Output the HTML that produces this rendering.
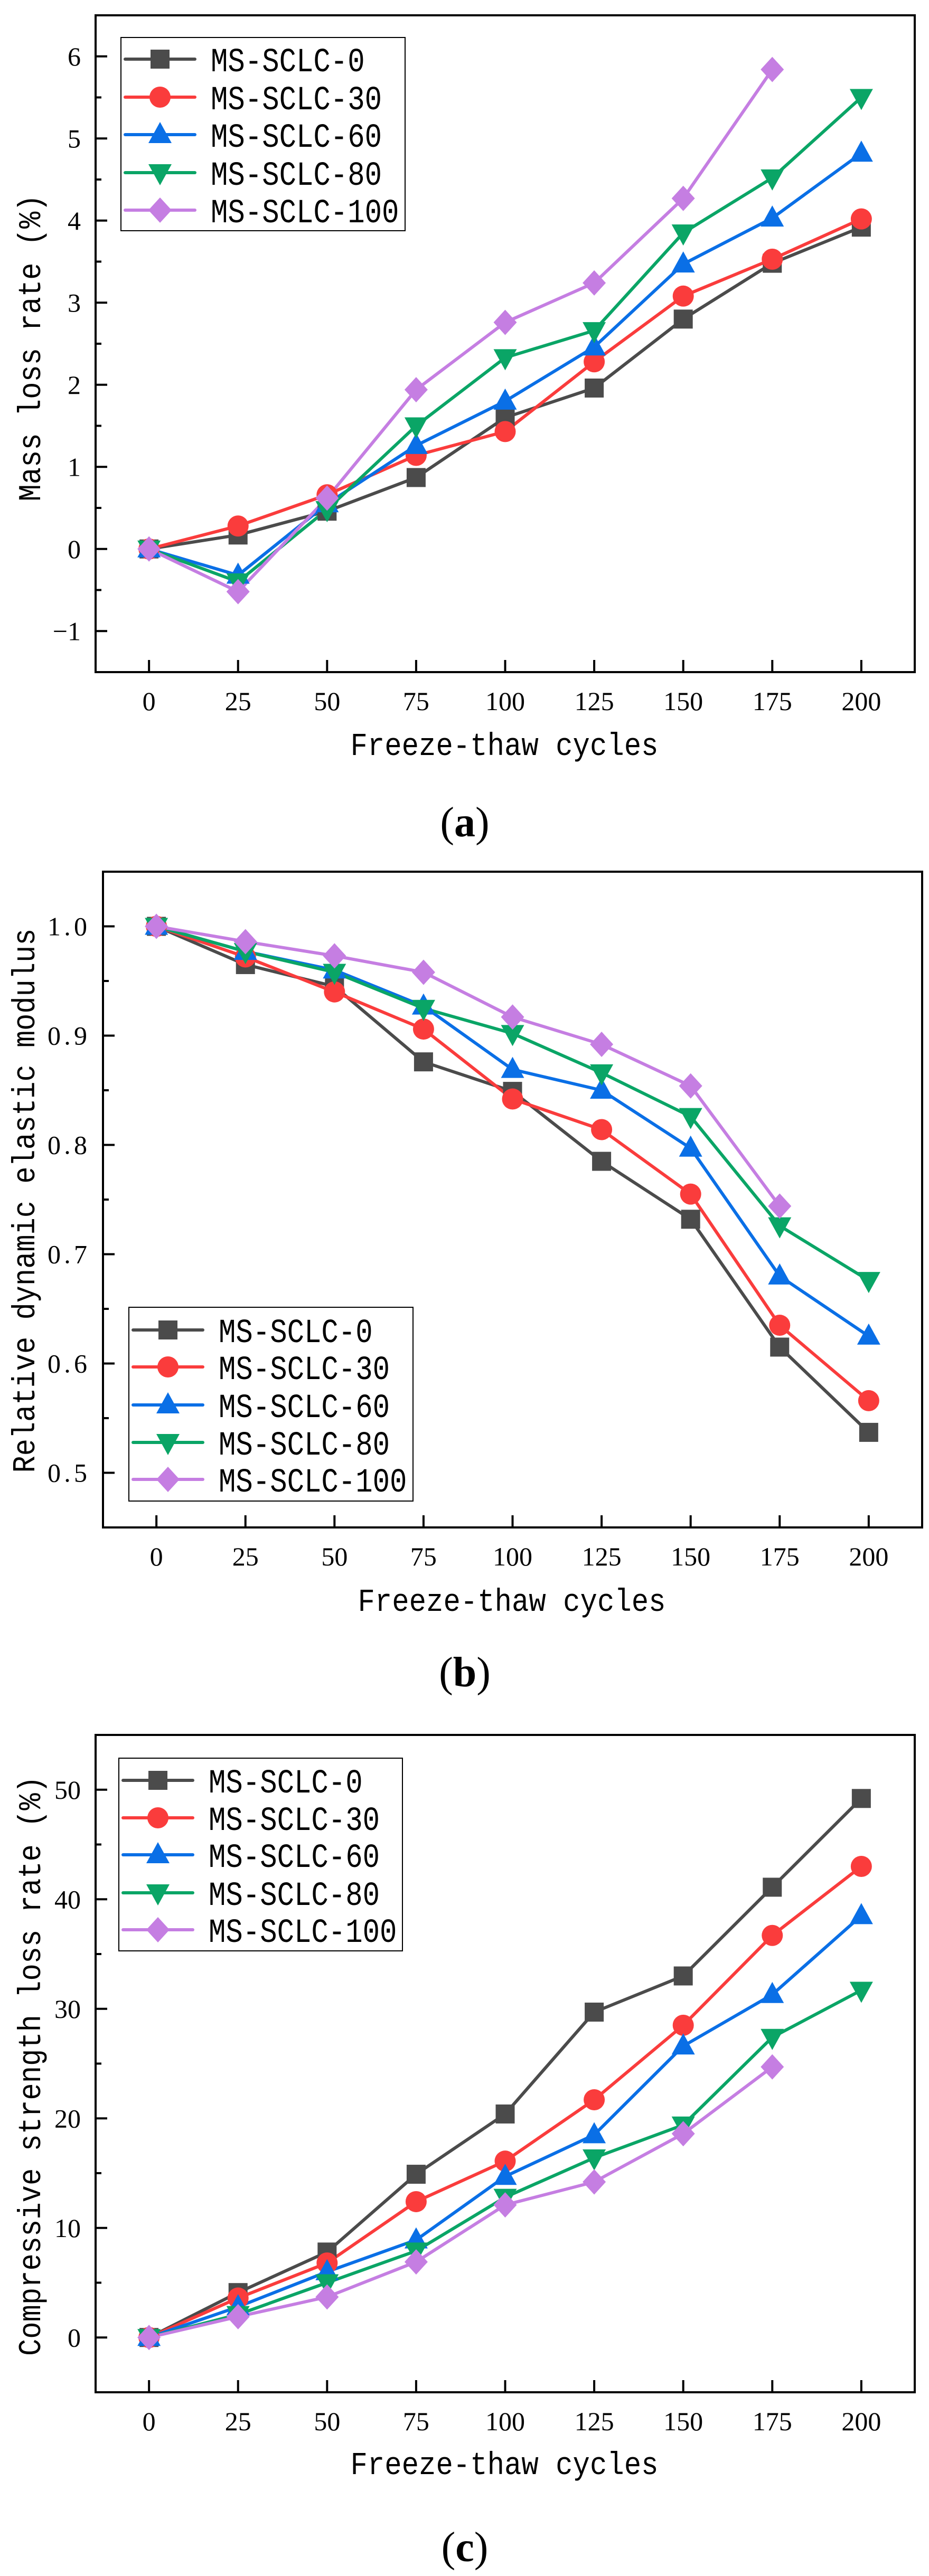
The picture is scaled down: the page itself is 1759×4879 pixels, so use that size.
<!DOCTYPE html>
<html><head><meta charset="utf-8">
<style>
html,body{margin:0;padding:0;background:#fff;}
svg{display:block;}
.tick{font-family:"Liberation Serif",serif;font-size:50px;fill:#000;}
.mono{font-family:"Liberation Mono",monospace;fill:#000;}
.cap{font-family:"Liberation Serif",serif;font-size:80px;fill:#000;}
</style></head>
<body>
<svg id="fig" width="1759" height="4879" viewBox="0 0 1759 4879" xmlns="http://www.w3.org/2000/svg"></svg>
<script>
const cycles = [0,25,50,75,100,125,150,175,200];
const seriesNames = ["MS-SCLC-0","MS-SCLC-30","MS-SCLC-60","MS-SCLC-80","MS-SCLC-100"];
// Panel (a) mass loss rate (%)
const massS0   = [0,0.17,0.46,0.87,1.6,1.96,2.8,3.48,3.92];
const massS30  = [0,0.28,0.66,1.14,1.43,2.28,3.08,3.53,4.02];
const massS60  = [0,-0.32,0.55,1.26,1.8,2.46,3.47,4.03,4.82];
const massS80  = [0,-0.4,0.48,1.5,2.33,2.66,3.85,4.52,5.5];
const massS100 = [0,-0.52,0.62,1.94,2.76,3.24,4.27,5.84,null];
const massTicks = [-1,0,1,2,3,4,5,6];
const massTickLabels = ["\u22121","0","1","2","3","4","5","6"];
// Panel (b) relative dynamic elastic modulus
const modS0   = [1,0.965,0.945,0.876,0.849,0.785,0.732,0.615,0.537];
const modS30  = [1,0.972,0.94,0.906,0.842,0.814,0.755,0.635,0.566];
const modS60  = [1,0.977,0.96,0.927,0.869,0.85,0.797,0.68,0.625];
const modS80  = [1,0.977,0.958,0.925,0.902,0.866,0.826,0.726,0.676];
const modS100 = [1,0.986,0.973,0.958,0.917,0.892,0.854,0.744,null];
const modTicks = [0.5,0.6,0.7,0.8,0.9,1.0];
const modTickLabels = ["0.5","0.6","0.7","0.8","0.9","1.0"];
// Panel (c) compressive strength loss rate (%)
const compS0   = [0,4.1,7.8,14.9,20.4,29.7,33.0,41.1,49.2];
const compS30  = [0,3.6,6.8,12.4,16.1,21.7,28.5,36.7,43.0];
const compS60  = [0,2.8,6.0,8.9,14.7,18.5,26.6,31.3,38.5];
const compS80  = [0,2.1,5.0,7.9,12.8,16.4,19.4,27.4,31.7];
const compS100 = [0,1.9,3.7,6.9,12.1,14.2,18.6,24.7,null];
const compTicks = [0,10,20,30,40,50];
const compTickLabels = ["0","10","20","30","40","50"];
const xTickLabels = ["0","25","50","75","100","125","150","175","200"];

const NS="http://www.w3.org/2000/svg";
const svg=document.getElementById('fig');
const colors=["#4b4b4b","#fa3c3c","#0a6fe6","#0aa566","#c57ee2"];
const shapes=["square","circle","up","down","diamond"];
function mk(tag,attrs,parent){const e=document.createElementNS(NS,tag);for(const k in attrs)e.setAttribute(k,attrs[k]);(parent||svg).appendChild(e);return e;}
function marker(g,shape,x,y,c){
  let e;
  if(shape==="square") e=mk('rect',{x:x-18,y:y-18,width:36,height:36,fill:c},g);
  else if(shape==="circle") e=mk('circle',{cx:x,cy:y,r:20,fill:c},g);
  else if(shape==="up") e=mk('polygon',{points:`${x},${y-24} ${x+22},${y+16} ${x-22},${y+16}`,fill:c},g);
  else if(shape==="down") e=mk('polygon',{points:`${x},${y+24} ${x+22},${y-16} ${x-22},${y-16}`,fill:c},g);
  else e=mk('polygon',{points:`${x},${y-24} ${x+22},${y} ${x},${y+24} ${x-22},${y}`,fill:c},g);
  return e;
}
function panel(p){
  const g=mk('g',{});
  
  
  const X=v=>p.L+(v-(-15))/(230)*(p.R-p.L);
  const Y=v=>p.B-(v-p.ymin)/(p.ymax-p.ymin)*(p.B-p.T);
  p.series.forEach((s,i)=>{
    let pts=[];cycles.forEach((c,j)=>{if(s[j]!==null)pts.push(X(c)+','+Y(s[j]));});
    const l=mk('polyline',{points:pts.join(' '),fill:'none',stroke:colors[i],'stroke-width':6,'stroke-linejoin':'round'},g);
    
    
  });
  p.series.forEach((s,i)=>{
    cycles.forEach((c,j)=>{if(s[j]===null)return;
      const m=marker(g,shapes[i],X(c),Y(s[j]),colors[i]);
      
      
    });
  });
  const f=mk('rect',{x:p.L,y:p.T,width:p.R-p.L,height:p.B-p.T,fill:'none',stroke:'#000','stroke-width':4},g);
  
  
  cycles.forEach((c,j)=>{
    mk('line',{x1:X(c),x2:X(c),y1:p.B,y2:p.B-23,stroke:'#000','stroke-width':4},g);
    const t=mk('text',{x:X(c),y:p.B+72,'text-anchor':'middle',class:'tick'},g);
    t.textContent=xTickLabels[j];
    
    
  });
  p.ticks.forEach((v,j)=>{
    mk('line',{x1:p.L,x2:p.L+22,y1:Y(v),y2:Y(v),stroke:'#000','stroke-width':4},g);
    const a={x:p.L-28,y:Y(v)+17,'text-anchor':'end',class:'tick'};
    if(p.tickLen) {a.textLength=p.tickLen;a.lengthAdjust='spacing';a.x=p.L-30;}
    const t=mk('text',a,g);
    t.textContent=p.tickLabels[j];
    
    
  });
  p.minor.forEach(v=>{mk('line',{x1:p.L,x2:p.L+11,y1:Y(v),y2:Y(v),stroke:'#000','stroke-width':4},g);});
  const xt=mk('text',{x:p.xtX,y:p.xtY+20,'text-anchor':'middle',class:'mono','font-size':60,textLength:583,lengthAdjust:'spacingAndGlyphs'},g);
  xt.textContent="Freeze-thaw cycles";
  
  
  const yt=mk('text',{x:0,y:0,'text-anchor':'middle',class:'mono','font-size':60,textLength:p.ytLen,lengthAdjust:'spacingAndGlyphs',transform:`translate(${p.ytX+20},${p.ytY}) rotate(-90)`},g);
  yt.textContent=p.ytitle;
  
  
  const lg=mk('g',{},g);
  
  
  mk('rect',{x:p.lg.x,y:p.lg.y,width:p.lg.w,height:p.lg.h,fill:'#fff',stroke:'#000','stroke-width':2},lg);
  seriesNames.forEach((n,i)=>{
    const ry=p.lg.rows[i];
    const e=mk('g',{},lg);
    
    
    mk('line',{x1:p.lg.x+8,x2:p.lg.x+140,y1:ry,y2:ry,stroke:colors[i],'stroke-width':6,'stroke-linecap':'round'},e);
    marker(e,shapes[i],p.lg.x+74,ry,colors[i]);
    const t=mk('text',{x:p.lg.x+170,y:ry+23,class:'mono','font-size':64,textLength:n.length*32.4,lengthAdjust:'spacingAndGlyphs'},e);
    t.textContent=n;
  });
  const cp=mk('text',{x:880,y:p.capY+26,'text-anchor':'middle',class:'cap'},g);
  cp.innerHTML='(<tspan font-weight="bold">'+p.cap+'</tspan>)';
  
  
}
const halfs=(a,b,s)=>{const r=[];for(let v=a;v<=b+1e-9;v+=s)r.push(+v.toFixed(3));return r;};
panel({name:'panel-a-mass-loss',L:181,R:1732,T:29,B:1273,ymin:-1.5,ymax:6.5,
  series:[massS0,massS30,massS60,massS80,massS100],ticks:massTicks,tickLabels:massTickLabels,
  minor:halfs(-1.5,6.5,1).filter(v=>v>-1.5&&v<6.5),
  xtX:955,xtY:1410,ytX:56,ytY:659,ytLen:581,ytitle:"Mass loss rate (%)",
  lg:{x:229,y:71,w:538,h:366,rows:[112,184,255,327,398]},cap:'a',capY:1558});
panel({name:'panel-b-elastic-modulus',L:195,R:1746,T:1651,B:2893,ymin:0.45,ymax:1.05,
  series:[modS0,modS30,modS60,modS80,modS100],ticks:modTicks,tickLabels:modTickLabels,tickLen:75,
  minor:[0.55,0.65,0.75,0.85,0.95],
  xtX:969,xtY:3031,ytX:45,ytY:2274,ytLen:1031,ytitle:"Relative dynamic elastic modulus",
  lg:{x:244,y:2476,w:538,h:367,rows:[2519,2589,2661,2732,2802]},cap:'b',capY:3168});
panel({name:'panel-c-compressive-loss',L:181,R:1732,T:3286,B:4531,ymin:-5,ymax:55,
  series:[compS0,compS30,compS60,compS80,compS100],ticks:compTicks,tickLabels:compTickLabels,
  minor:[5,15,25,35,45],
  xtX:955,xtY:4666,ytX:56,ytY:3913,ytLen:1098,ytitle:"Compressive strength loss rate (%)",
  lg:{x:225,y:3330,w:537,h:365,rows:[3372,3443,3513,3585,3655]},cap:'c',capY:4825});
</script>
</body></html>
